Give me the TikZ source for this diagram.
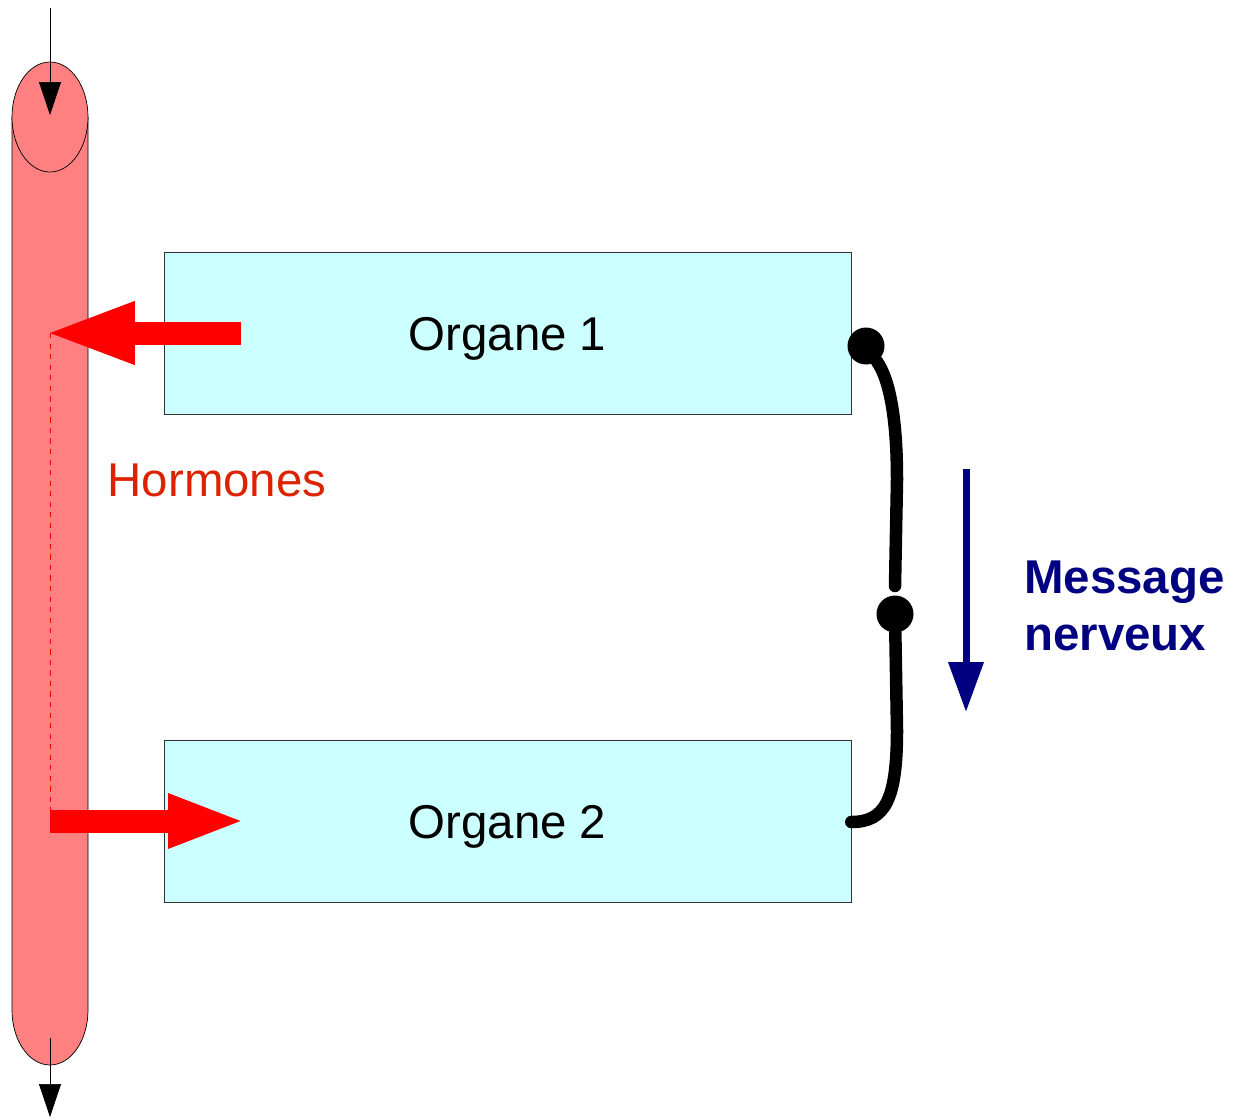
\documentclass[tikz,border=0pt]{standalone}
\usepackage{fontspec}
\setmainfont{Liberation Sans}
\usepackage{tikz}
\usetikzlibrary{positioning,calc,arrows.meta}

\definecolor{sang}{HTML}{FF8080}
\definecolor{organe}{HTML}{CCFFFF}
\definecolor{hormone}{HTML}{DC2300}
\definecolor{nerf}{HTML}{000080}

\tikzset{
  organbox/.style={draw=black!80, thin, fill=organe, minimum width=13.74cm, minimum height=3.24cm, text height=19.6pt, text depth=0pt, font=\fontsize{27}{32}\selectfont},
  flux/.style={-{Triangle[length=0.66cm,width=0.44cm]}, thin},
  nervefibre/.style={line width=0.25cm, line cap=round},
  synapse/.style={circle, fill=black, inner sep=0pt, minimum size=0.74cm}
}

\begin{document}
\begin{tikzpicture}[x=0.02cm, y=-0.02cm]
  \useasboundingbox (0,0) rectangle (1234,1119);

  % vaisseau sanguin
  \fill[sang] (12,117) -- (12,1010) arc (180:0:38 and 55) -- (88,117) -- cycle;
  \draw[thin] (12,117) -- (12,1010) arc (180:0:38 and 55) -- (88,117);
  \draw[thin, fill=sang] (50,117) ellipse (38 and 55);

  \coordinate (in) at (50,8);
  \coordinate (intip) at (50,115);
  \coordinate (out) at (50,1038);
  \coordinate (outtip) at (50,1117);
  \draw[flux] (in) -- (intip);
  \draw[flux] (out) -- (outtip);

  % organes
  \node[organbox] (org1) at (507.5,333) {Organe 1};
  \node[organbox] (org2) at (507.5,821) {Organe 2};

  % hormones
  \coordinate (h1) at (241,333);
  \coordinate (t1) at (43,333);
  \coordinate (d1) at (50,333);
  \coordinate (d2) at (50,821);
  \coordinate (t2) at (50,821);
  \coordinate (h2) at (246,821);
  \draw[red, thin, dashed] (d1) -- (d2);
  \draw[red, line width=0.46cm, -{Triangle[length=1.84cm,width=1.12cm]}] (h1) -- (t1);
  \draw[red, line width=0.46cm, -{Triangle[length=1.56cm,width=0.98cm]}] (t2) -- (h2);
  \node[text=hormone, font=\fontsize{27}{32}\selectfont] (horm) at (217,480) {Hormones};

  % voie nerveuse
  \node[synapse] (s1) at (866,346) {};
  \node[synapse] (s2) at (895,614) {};
  \draw[nervefibre] (s1) .. controls (890,380) and (897,420) .. (897,480) -- (895,586);
  \draw[nervefibre] (s2) -- (897,730) .. controls (897,800) and (885,822) .. (org2.east |- 0,822);

  \coordinate (m1) at (966,469);
  \coordinate (m2) at (966,712);
  \draw[nerf, line width=0.14cm, -{Triangle[length=1cm,width=0.68cm]}] (m1) -- (m2);
  \node[text=nerf, font=\fontsize{27}{32}\bfseries\selectfont, align=left, anchor=west] (msg) at (1018,606) {Message\\nerveux};
\end{tikzpicture}
\end{document}
